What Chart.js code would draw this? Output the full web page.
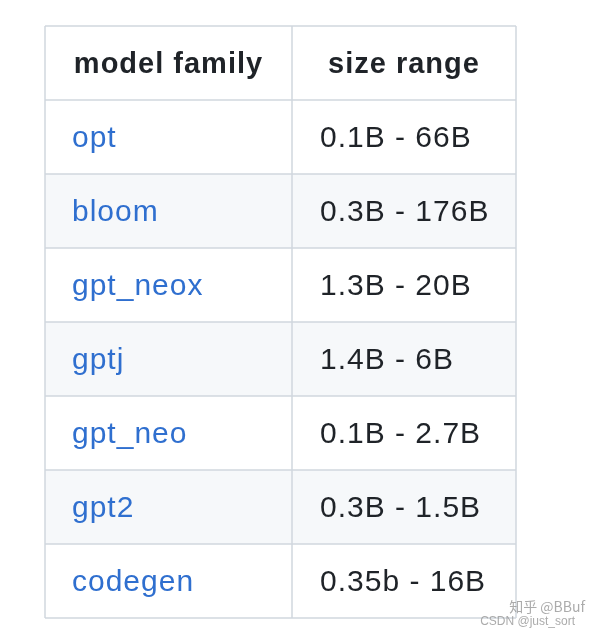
<!DOCTYPE html>
<html><head><meta charset="utf-8">
<script src="https://cdn.jsdelivr.net/npm/chart.js@4/dist/chart.umd.min.js"></script>
<style>html,body{margin:0;background:#fff}</style>
</head><body>
<canvas id="tbl" width="590" height="640"></canvas>
<script>
var headers = ['model family', 'size range'];
var families = ['opt', 'bloom', 'gpt_neox', 'gptj', 'gpt_neo', 'gpt2', 'codegen'];
var sizeRanges = ['0.1B - 66B', '0.3B - 176B', '1.3B - 20B', '1.4B - 6B', '0.1B - 2.7B', '0.3B - 1.5B', '0.35b - 16B'];

var colSplit = 247 / 471; // fraction of table width for first column
var font = '"Liberation Sans", Arial, sans-serif';

var tablePlugin = {
    id: 'table-cells',
    beforeDatasetsDraw: function (chart) {
        var c = chart.ctx, xs = chart.scales.x, ys = chart.scales.y;
        var nRows = families.length + 1;
        var x0 = xs.getPixelForValue(0), x1 = xs.getPixelForValue(colSplit), x2 = xs.getPixelForValue(1);
        c.save();
        for (var r = 0; r < nRows; r++) {
            if (r > 0 && r % 2 === 0) {
                c.fillStyle = '#f6f8fa';
                var ya = ys.getPixelForValue(r), yb = ys.getPixelForValue(r + 1);
                c.fillRect(x0, ya, x2 - x0, yb - ya);
            }
        }
        c.strokeStyle = '#d0d7de';
        c.lineWidth = 1.5;
        for (var r = 0; r <= nRows; r++) {
            var y = ys.getPixelForValue(r);
            c.beginPath(); c.moveTo(x0, y); c.lineTo(x2, y); c.stroke();
        }
        [x0, x1, x2].forEach(function (x) {
            c.beginPath(); c.moveTo(x, ys.getPixelForValue(0)); c.lineTo(x, ys.getPixelForValue(nRows)); c.stroke();
        });
        c.textBaseline = 'middle';
        var yc = function (r) { return (ys.getPixelForValue(r) + ys.getPixelForValue(r + 1)) / 2 + 2; };
        c.font = 'bold 29px ' + font;
        c.letterSpacing = '1px';
        c.fillStyle = '#1f2328';
        c.textAlign = 'center';
        c.fillText(headers[0], (x0 + x1) / 2, yc(0));
        c.fillText(headers[1], (x1 + x2) / 2, yc(0));
        c.font = '30px ' + font;
        c.letterSpacing = '1px';
        c.textAlign = 'left';
        families.forEach(function (f, i) {
            c.fillStyle = '#2f6fcf';
            c.fillText(f, x0 + 27, yc(i + 1));
            c.fillStyle = '#1f2328';
            c.fillText(sizeRanges[i], x1 + 28, yc(i + 1));
        });
        c.letterSpacing = '0px';
        c.fillStyle = 'rgba(150,150,150,0.8)';
        c.font = '14px "Noto Sans CJK SC", sans-serif';
        c.textAlign = 'right';
        c.fillText('知乎 @BBuf', 585, 607);
        c.font = '12px ' + font;
        c.fillText('CSDN @just_sort', 575, 622);
        c.restore();
    }
};

new Chart(document.getElementById('tbl'), {
    type: 'scatter',
    data: { datasets: [{ data: [] }] },
    options: {
        responsive: false,
        animation: false,
        layout: { padding: { left: 45, right: 74, top: 26, bottom: 22 } },
        plugins: { legend: { display: false }, tooltip: { enabled: false } },
        scales: {
            x: { type: 'linear', min: 0, max: 1, display: false },
            y: { type: 'linear', min: 0, max: families.length + 1, reverse: true, display: false }
        }
    },
    plugins: [tablePlugin]
});
</script>
</body></html>
